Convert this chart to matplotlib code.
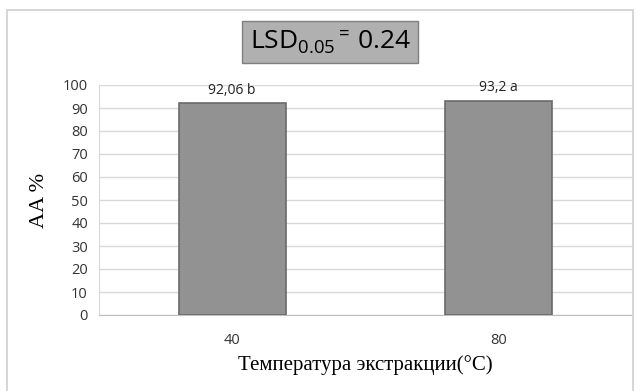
import matplotlib.pyplot as plt
from matplotlib.patches import Rectangle

plt.rcParams["mathtext.fontset"] = "custom"
plt.rcParams["mathtext.rm"] = "Open Sans"
plt.rcParams["mathtext.it"] = "Open Sans"
plt.rcParams["mathtext.default"] = "rm"

categories = ["40", "80"]
values = [92.06, 93.2]
labels = ["92,06 b", "93,2 a"]
yticks = [0, 10, 20, 30, 40, 50, 60, 70, 80, 90, 100]

W, H = 642, 391
fig = plt.figure(figsize=(W / 100, H / 100), dpi=100)

# outer chart border
fig.patches.append(Rectangle((7 / W, -0.01), (633 - 7) / W, (H - 10) / H + 0.01,
                             transform=fig.transFigure, fill=False,
                             edgecolor="#d0d0d0", linewidth=1.2))

ax = fig.add_axes([99 / W, 1 - 315 / H, (632 - 99) / W, (315 - 85) / H])
x = range(len(categories))
ax.bar(x, values, width=0.4, color="#929292", edgecolor="#6a6a6a", linewidth=1.2, zorder=3)
for xi, v, lab in zip(x, values, labels):
    ax.text(xi, v + 2.5, lab, ha="center", va="bottom", fontsize=10,
            family="Open Sans", color="#222222", zorder=4)

ax.set_xlim(-0.5, 1.5)
ax.set_ylim(0, 100)
ax.set_yticks(yticks)
ax.set_xticks(list(x))
ax.set_xticklabels(categories)
ax.grid(axis="y", color="#d9d9d9", linewidth=1, zorder=0)
for s in ["top", "right"]:
    ax.spines[s].set_visible(False)
ax.spines["bottom"].set_color("#bfbfbf")
ax.spines["left"].set_color("#d9d9d9")
ax.tick_params(length=0, labelsize=10.5, colors="#333333", pad=8)
ax.tick_params(axis="x", pad=13)
for t in ax.get_xticklabels() + ax.get_yticklabels():
    t.set_family("Open Sans")

ax.set_ylabel("AA %", family="Liberation Serif", fontsize=16, labelpad=10)
ax.set_xlabel("Температура экстракции(°C)", family="Liberation Serif", fontsize=15, labelpad=5)

fig.text(330 / W, 1 - 42 / H, r"LSD$_{0.05}$$^{{=}}\,$0.24", ha="center", va="center",
         fontsize=19, family="Open Sans", color="black",
         bbox=dict(boxstyle="square,pad=0.3", facecolor="#b0b0b0", edgecolor="#808080", linewidth=1))

fig.savefig("out.png", dpi=100, facecolor="white")
